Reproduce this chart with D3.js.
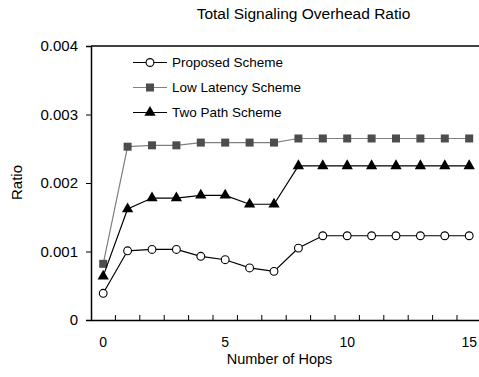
<!DOCTYPE html>
<html><head><meta charset="utf-8">
<script src="https://cdn.jsdelivr.net/npm/d3@7"></script>
<style>body{margin:0;background:#fff}svg{display:block}text{font-family:"Liberation Sans",Arial,sans-serif;fill:#000}</style>
</head><body><svg id="c" width="479" height="377"></svg>
<script>
const hops = [0,1,2,3,4,5,6,7,8,9,10,11,12,13,14,15];
const proposed = [0.00039,0.00101,0.00103,0.00103,0.00093,0.00088,0.00076,0.00071,0.00105,0.00123,0.00123,0.00123,0.00123,0.00123,0.00123,0.00123];
const lowLatency = [0.00082,0.00253,0.00255,0.00255,0.00259,0.00259,0.00259,0.00259,0.00265,0.00265,0.00265,0.00265,0.00265,0.00265,0.00265,0.00265];
const twoPath = [0.00064,0.00162,0.00178,0.00178,0.00182,0.00182,0.00169,0.00169,0.00225,0.00225,0.00225,0.00225,0.00225,0.00225,0.00225,0.00225];
const xTickLabels = [0,5,10,15];
const yTicks = [0,0.001,0.002,0.003,0.004];
const seriesNames = ["Proposed Scheme","Low Latency Scheme","Two Path Scheme"];

const svg = d3.select("#c");
const mLeft = 91, mTop = 46, mBottom = 320;
const x = d3.scaleLinear().domain([-0.5, 15.5]).range([mLeft, mLeft + 16*24.4]);
const y = d3.scaleLinear().domain([0, 0.004]).range([mBottom, mTop]);

// title
svg.append("text").attr("x",303.5).attr("y",19).attr("text-anchor","middle").attr("font-size",15.5).text("Total Signaling Overhead Ratio");

// frame: top line
svg.append("line").attr("x1",mLeft).attr("x2",479).attr("y1",mTop).attr("y2",mTop).attr("stroke","#000").attr("stroke-width",1.5);

// y axis
const yAxis = d3.axisLeft(y).tickValues(yTicks).tickSize(5).tickPadding(8).tickFormat(d => d===0 ? "0" : d3.format(".3f")(d));
const gy = svg.append("g").attr("transform",`translate(${mLeft},0)`).call(yAxis);
gy.select(".domain").attr("stroke-width",1.5);
gy.selectAll("text").attr("font-size",15).attr("font-family","Liberation Sans, Arial, sans-serif");

// x axis
const halfTicks = d3.range(-0.5, 15.6, 1);
const gx = svg.append("g").attr("transform",`translate(0,${mBottom})`).call(d3.axisBottom(x).tickValues(halfTicks).tickSize(0).tickFormat(""));
gx.select(".domain").attr("stroke-width",1.5);
gx.selectAll(".tick line").remove();
svg.append("g").selectAll("line").data(halfTicks.slice(1)).join("line")
  .attr("x1",d=>x(d)).attr("x2",d=>x(d)).attr("y1",mBottom).attr("y2",mBottom-5).attr("stroke","#000");
svg.append("g").selectAll("text").data(xTickLabels).join("text")
  .attr("x",d=>x(d)).attr("y",347).attr("text-anchor","middle").attr("font-size",14).text(d=>d);

svg.append("text").attr("x",279.5).attr("y",364).attr("text-anchor","middle").attr("font-size",14.5).text("Number of Hops");
svg.append("text").attr("transform","translate(22,182.5) rotate(-90)").attr("text-anchor","middle").attr("font-size",15).text("Ratio");

const line = d3.line().x((d,i)=>x(hops[i])).y(d=>y(d));
const tri = d3.symbol().type(d3.symbolTriangle).size(55);

function drawSeries(vals, lineColor, marker){
  svg.append("path").datum(vals).attr("d",line).attr("fill","none").attr("stroke",lineColor).attr("stroke-width",1.2);
  const g = svg.append("g");
  vals.forEach((v,i)=>marker(g, x(hops[i]), y(v)));
}
const circ = (g,cx,cy)=>g.append("circle").attr("cx",cx).attr("cy",cy).attr("r",3.9).attr("fill","#fff").attr("stroke","#000").attr("stroke-width",1.1);
const sq = (g,cx,cy)=>g.append("rect").attr("x",cx-4).attr("y",cy-4).attr("width",8).attr("height",8).attr("fill","#4d4d4d");
const tr = (g,cx,cy)=>g.append("path").attr("d",tri()).attr("transform",`translate(${cx},${cy})`).attr("fill","#000");

drawSeries(lowLatency, "#808080", sq);
drawSeries(twoPath, "#000", tr);
drawSeries(proposed, "#000", circ);

// legend
const legRows = [62.5, 87.5, 112.5];
const legMarkers = [circ, sq, tr];
const legColors = ["#000","#808080","#000"];
seriesNames.forEach((n,i)=>{
  svg.append("line").attr("x1",133).attr("x2",167).attr("y1",legRows[i]).attr("y2",legRows[i]).attr("stroke",legColors[i]).attr("stroke-width",1.2);
  legMarkers[i](svg, 150, legRows[i]);
  svg.append("text").attr("x",172).attr("y",legRows[i]+4.8).attr("font-size",13.5).text(n);
});
</script></body></html>
